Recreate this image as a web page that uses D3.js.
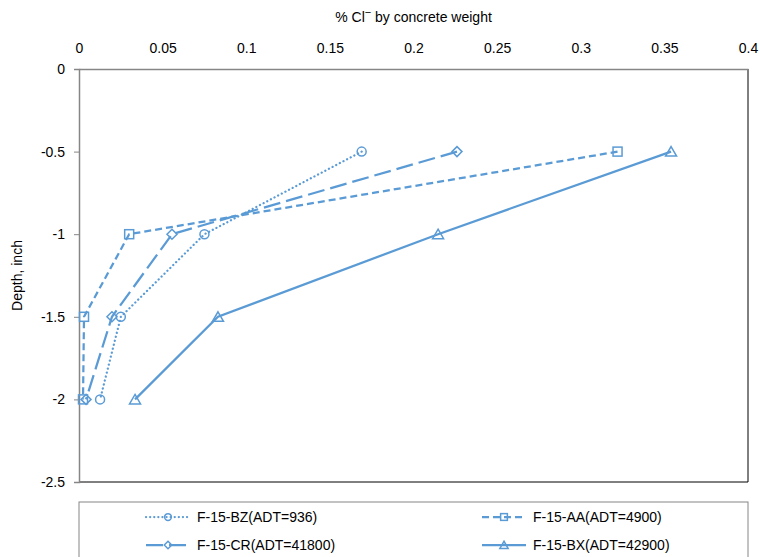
<!DOCTYPE html>
<html>
<head>
<meta charset="utf-8">
<script src="https://cdn.jsdelivr.net/npm/d3@7"></script>
<style>
  body { margin: 0; background: #fff; }
  text { font-family: "Liberation Sans", Arial, sans-serif; fill: #000; }
</style>
</head>
<body>
<div id="chart"></div>
<script>
// depth values (inch) shared by all sites
var depths = [-0.5, -1, -1.5, -2];

// % Cl- by concrete weight
var seriesNames = ["F-15-BZ(ADT=936)", "F-15-AA(ADT=4900)", "F-15-CR(ADT=41800)", "F-15-BX(ADT=42900)"];
var bzValues = [0.169, 0.075, 0.025, 0.0126];
var aaValues = [0.322, 0.030, 0.003, 0.0024];
var crValues = [0.226, 0.0556, 0.0197, 0.0042];
var bxValues = [0.354, 0.2147, 0.0831, 0.0335];

var xTicks = [0, 0.05, 0.1, 0.15, 0.2, 0.25, 0.3, 0.35, 0.4];
var yTicks = [0, -0.5, -1, -1.5, -2, -2.5];

var width = 760, height = 557;
var plotLeft = 79, plotRight = 748, plotTop = 69, plotBottom = 482;
var color = "#5B9BD5";

var svg = d3.select("#chart").append("svg")
  .attr("width", width)
  .attr("height", height);

var x = d3.scaleLinear().domain([0, 0.4]).range([plotLeft, plotRight]);
var y = d3.scaleLinear().domain([0, -2.5]).range([plotTop, plotBottom]);

// plot frame: dark right/bottom edges, grey axes on top/left
svg.append("line").attr("x1", plotRight).attr("x2", plotRight).attr("y1", plotTop).attr("y2", plotBottom)
  .attr("stroke", "#000").attr("stroke-width", 1);
svg.append("line").attr("x1", plotLeft).attr("x2", plotRight).attr("y1", plotBottom).attr("y2", plotBottom)
  .attr("stroke", "#000").attr("stroke-width", 1);

var xAxis = svg.append("g")
  .attr("transform", "translate(0," + plotTop + ")")
  .call(d3.axisTop(x).tickValues(xTicks).tickSize(0).tickPadding(16)
    .tickFormat(function(d) { return String(d); }));
xAxis.select(".domain").attr("stroke", "#868686").attr("stroke-width", 1.5);
xAxis.selectAll("text").style("font-size", "14px").attr("fill", "#000")
  .style("font-family", "'Liberation Sans', Arial, sans-serif");

var yAxis = svg.append("g")
  .attr("transform", "translate(" + plotLeft + ",0)")
  .call(d3.axisLeft(y).tickValues(yTicks).tickSize(5).tickPadding(9)
    .tickFormat(function(d) { return String(d); }));
yAxis.select(".domain").attr("stroke", "#868686").attr("stroke-width", 1.5);
yAxis.selectAll(".tick line").attr("stroke", "#868686");
yAxis.selectAll("text").style("font-size", "14px").attr("fill", "#000")
  .style("font-family", "'Liberation Sans', Arial, sans-serif");

// axis titles
var xTitle = svg.append("text")
  .attr("x", (plotLeft + plotRight) / 2)
  .attr("y", 22)
  .attr("text-anchor", "middle")
  .style("font-size", "14px");
xTitle.append("tspan").text("% Cl");
xTitle.append("tspan").attr("dy", -6).style("font-size", "11px").text("\u2212");
xTitle.append("tspan").attr("dy", 6).text(" by concrete weight");

svg.append("text")
  .attr("transform", "translate(22," + ((plotTop + plotBottom) / 2) + ") rotate(-90)")
  .attr("text-anchor", "middle")
  .style("font-size", "14px")
  .text("Depth, inch");

var series = [
  { name: seriesNames[0], values: bzValues, dash: "0.1,4", cap: "round", marker: "circle" },
  { name: seriesNames[1], values: aaValues, dash: "7,4", cap: "butt", marker: "square" },
  { name: seriesNames[2], values: crValues, dash: "17,6", cap: "butt", marker: "diamond" },
  { name: seriesNames[3], values: bxValues, dash: null, cap: "butt", marker: "triangle" }
];

function drawMarker(g, type, cx, cy, k) {
  var m = g.append("g").attr("transform", "translate(" + cx + "," + cy + ") scale(" + k + ")");
  var st = function(sel) {
    return sel.attr("fill", "none").attr("stroke", color).attr("stroke-width", 1.5 / k);
  };
  if (type === "circle") {
    st(m.append("circle").attr("r", 4.5));
  } else if (type === "square") {
    st(m.append("rect").attr("x", -4.5).attr("y", -4.5).attr("width", 9).attr("height", 9));
  } else if (type === "diamond") {
    st(m.append("path").attr("d", "M0,-5L5,0L0,5L-5,0Z"));
  } else {
    st(m.append("path").attr("d", "M0,-5L5.5,4.5L-5.5,4.5Z"));
  }
}

var line = d3.line()
  .x(function(d) { return x(d.v); })
  .y(function(d) { return y(d.depth); });

series.forEach(function(s) {
  var pts = s.values.map(function(v, i) { return { v: v, depth: depths[i] }; });
  svg.append("path")
    .datum(pts)
    .attr("d", line)
    .attr("fill", "none")
    .attr("stroke", color)
    .attr("stroke-width", 2.25)
    .attr("stroke-linecap", s.cap)
    .attr("stroke-dasharray", s.dash);
  pts.forEach(function(p) { drawMarker(svg, s.marker, x(p.v), y(p.depth), 1); });
});

// legend box (runs off the bottom of the picture)
svg.append("rect")
  .attr("x", plotLeft).attr("y", 502)
  .attr("width", plotRight - plotLeft).attr("height", 80)
  .attr("fill", "none").attr("stroke", "#868686").attr("stroke-width", 1);

var legendPos = [
  { lx: 146, ty: 517 }, { lx: 482, ty: 517 },
  { lx: 146, ty: 545 }, { lx: 482, ty: 545 }
];
series.forEach(function(s, i) {
  var p = legendPos[i];
  var g = svg.append("g");
  g.append("line")
    .attr("x1", p.lx).attr("x2", p.lx + 44)
    .attr("y1", p.ty).attr("y2", p.ty)
    .attr("stroke", color).attr("stroke-width", 2.25)
    .attr("stroke-linecap", s.cap)
    .attr("stroke-dasharray", s.dash);
  drawMarker(g, s.marker, p.lx + 22, p.ty, 0.75);
  g.append("text")
    .attr("x", p.lx + 51).attr("y", p.ty)
    .attr("dy", "0.35em")
    .style("font-size", "14px")
    .text(s.name);
});
</script>
</body>
</html>
